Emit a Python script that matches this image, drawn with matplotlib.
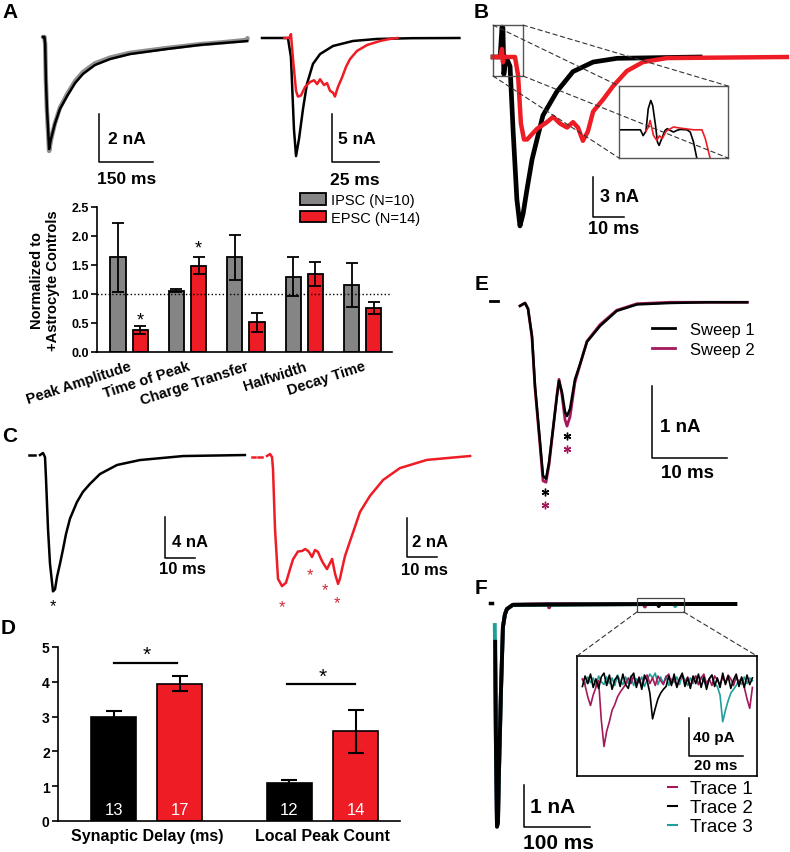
import numpy as np
import matplotlib
matplotlib.use('Agg')
from matplotlib import pyplot as plt
from matplotlib.patches import Rectangle, ConnectionPatch

plt.rcParams['font.family'] = ['Liberation Sans', 'DejaVu Sans']

RED = '#ee1c24'
GRAY = '#858585'
PINK = '#a3195b'
TEAL = '#1f9e9c'

#==============================================================#
# A : 平均波形 (ms, nA)
a_ipsc_t = [0, 4, 6, 8, 11, 14, 17, 22, 33, 47, 67, 89, 111, 144, 186, 242, 344, 436, 500, 567]
a_ipsc_i = [0, 0, -0.3, -1.75, -3.0, -3.8, -4.67, -4.25, -3.62, -3.0, -2.46, -1.92, -1.54,
            -1.17, -0.92, -0.71, -0.5, -0.33, -0.25, -0.17]
a_ctrl_t = [0, 4, 6, 8, 11, 14, 17, 22, 33, 47, 67, 89, 111, 144, 186, 242, 344, 436, 500, 567, 568]
a_ctrl_i = [0, 0, -0.3, -1.8, -3.1, -3.9, -4.75, -4.3, -3.6, -2.95, -2.38, -1.84, -1.46,
            -1.1, -0.86, -0.66, -0.46, -0.3, -0.22, -0.12, -0.05]
a_fast_t = [0, 13.8, 15.4, 17.0, 18.1, 19.7, 21.8, 23.9, 27.1, 30.9, 37.8, 48.4, 61.2, 80, 105]
a_fast_i = [0, 0, -2.0, -9.5, -12.3, -10.5, -7.4, -4.8, -2.7, -1.67, -0.83, -0.31, -0.1, -0.02, 0]
a_slow_t = [12, 14.4, 15.4, 16.5, 18.1, 19.1, 20.7, 22.9, 25.5, 27.7, 29.3, 30.9, 33.0, 34.6,
            36.2, 37.8, 38.8, 40.4, 42.6, 44.7, 46.8, 50.5, 55.9, 62.8, 68.0, 72]
a_slow_i = [0, 0, 0.4, -2.2, -5.5, -6.1, -6.0, -5.1, -4.6, -4.4, -4.8, -4.3, -4.9, -4.7,
            -5.5, -5.7, -6.1, -5.1, -4.1, -3.0, -2.2, -1.35, -0.73, -0.31, -0.1, 0]

# A : 正規化した比較
measures = ['Peak Amplitude', 'Time of Peak', 'Charge Transfer', 'Halfwidth', 'Decay Time']
ipsc_norm = [1.63, 1.06, 1.63, 1.30, 1.15]
ipsc_sem = [0.59, 0.02, 0.38, 0.33, 0.38]
epsc_norm = [0.38, 1.49, 0.51, 1.35, 0.76]
epsc_sem = [0.07, 0.15, 0.17, 0.21, 0.11]
epsc_sig = [0, 1]

# B : 重ね書き + 拡大
b_ipsc_t = [0, 2.3, 2.9, 3.2, 3.5, 4.2, 5.5, 6.5, 7.7, 8.7, 9.7, 11.0, 12.6, 16.1, 20.6,
            25.8, 32.3, 40.0, 66.8]
b_ipsc_i = [0, 0, 2.25, 2.2, -1.3, 0, -0.7, -5.6, -10.7, -12.7, -11.8, -9.9, -7.7, -4.4,
            -2.6, -1.1, -0.38, -0.1, 0]
b_epsc_t = [0, 2.3, 2.9, 3.2, 3.5, 7.1, 8.1, 9.0, 10.0, 11.0, 14.2, 17.4, 19.4, 21.6, 23.9,
            25.8, 27.4, 29.0, 30.6, 32.3, 35.5, 38.7, 43.2, 48.4, 56.1, 94.8]
b_epsc_i = [0, 0, 0.6, -0.4, 0, 0, -1.4, -5.0, -6.2, -6.2, -5.4, -4.9, -4.5, -5.0, -5.3,
            -4.9, -5.3, -6.3, -5.6, -4.1, -3.2, -2.2, -1.05, -0.38, -0.08, 0]
bz_ipsc_t = [0.1, 1.9, 2.0, 2.15, 2.4, 2.6, 2.83, 3.0, 3.25, 3.42, 3.57, 3.8, 4.1, 4.3,
             4.55, 4.85, 5.15, 5.45, 6.04, 6.34, 6.63, 6.93]
bz_ipsc_i = [0.07, 0.07, -0.05, -0.24, 0, 1.19, 1.63, 1.36, 0.3, -0.58, -0.76, -0.4, 0.04,
             0.13, 0.04, -0.05, 0.04, 0.09, 0.07, -0.05, -0.58, -1.46]
bz_epsc_t = [2.4, 2.6, 2.77, 3.07, 3.36, 3.6, 3.85, 4.2, 4.85, 5.45, 6.63, 7.38, 7.68, 7.97, 8.18]
bz_epsc_i = [0, 0.2, 0.57, -0.23, -0.49, -0.25, -0.4, 0.0, 0.22, 0.16, 0.07, 0.07, -0.4, -1.1, -1.63]

# C : 単一波形とピーク
c_ipsc_t = [0, 1, 1.67, 2.0, 2.67, 3.33, 4.33, 5.0, 5.67, 6.67, 7.67, 8.67, 10, 12.3, 14.3,
            16.7, 20, 25.7, 33.3, 47.7, 68.3]
c_ipsc_i = [-0.1, 0.1, -0.3, -2.4, -7.3, -10.7, -13.4, -13.2, -12.0, -10.7, -9.3, -7.8, -6.3,
            -4.7, -3.7, -2.9, -1.95, -1.07, -0.59, -0.2, -0.1]
c_epsc_t = [0, 1, 1.67, 2, 2.67, 3.67, 5, 6.33, 7.67, 8.67, 10.3, 11.7, 12.7, 13.7, 14.3, 15,
            16, 17, 18, 18.7, 20, 21, 21.7, 22.7, 23.7, 24.3, 25, 26, 27.7, 29.3, 31, 34.3,
            38.7, 44.3, 53.3, 67.7]
c_epsc_i = [0, 0.1, -0.05, -0.67, -3.74, -6.3, -6.67, -6.5, -5.8, -5.3, -4.9, -4.87, -4.77,
            -4.87, -5.0, -5.18, -4.82, -4.92, -5.28, -5.49, -5.8, -5.49, -5.28, -6.05, -6.56,
            -6.3, -5.8, -5.13, -4.36, -3.64, -2.87, -2.05, -1.23, -0.62, -0.2, 0]
c_ipsc_peak = [(4.33, -14.3)]
c_epsc_peak = [(5, -7.44), (14.3, -5.8), (19.3, -6.56), (23.3, -7.23)]

# D
d_labels = ['Synaptic Delay (ms)', 'Local Peak Count']
d_ctrl = [3.0, 1.1]
d_ctrl_sem = [0.17, 0.07]
d_exp = [3.95, 2.58]
d_exp_sem = [0.21, 0.62]
d_ctrl_n = [13, 12]
d_exp_n = [17, 14]

# E
e_t = [0, 0.67, 1.07, 1.6, 2.0, 2.67, 3.07, 3.47, 3.87, 4.4, 4.93, 5.2, 5.6, 6.0, 6.27, 6.67,
       7.33, 8.0, 8.93, 10.67, 12.9, 15.6, 20, 25, 30.3]
e_sweep1 = [-0.04, 0, -0.08, -0.46, -1.15, -1.93, -2.4, -2.44, -2.21, -1.75, -1.29, -1.08,
            -1.24, -1.51, -1.57, -1.47, -1.06, -0.85, -0.54, -0.32, -0.11, -0.02, 0, 0.01, 0.01]
e_sweep2 = [-0.04, 0, -0.08, -0.48, -1.18, -1.98, -2.47, -2.49, -2.25, -1.76, -1.27, -1.06,
            -1.28, -1.62, -1.71, -1.58, -1.1, -0.86, -0.53, -0.3, -0.1, -0.01, 0.01, 0.01, 0.01]
e_peak_t = [3.33, 6.27]
e_star1 = [-2.63, -1.85]
e_star2 = [-2.81, -2.03]

# F : 3 本の波形 (nA) と拡大 (pA)
f_t1 = [0.2, 1.5, 3, 4.5, 6, 9, 12, 15, 18, 27, 81, 82, 84, 226, 227, 229, 364]
f_i1 = [-1.3, -3.5, -5.3, -5.2, -4.0, -2.1, -0.55, -0.25, -0.12, -0.02, 0, -0.08, 0, 0, -0.06, 0, 0]
f_t2 = [0.3, 1.5, 3, 4.5, 6, 9, 12, 15, 18, 27, 247, 248, 250, 364]
f_i2 = [-0.9, -3.5, -5.3, -5.2, -4.0, -2.1, -0.55, -0.25, -0.12, -0.02, 0, -0.05, 0, 0]
f_t3 = [-0.3, 1.5, 3, 4.5, 6, 9, 12, 15, 18, 27, 272, 273, 275, 364]
f_i3 = [-0.5, -3.5, -5.3, -5.2, -4.0, -2.1, -0.55, -0.25, -0.12, -0.02, 0, -0.05, 0, 0]
f_inset_t = np.arange(2, 66)
f_trace1_pa = [3, -4, -16, -25, -14, -6, 1, -40, -68, -52,
               -42, -30, -24, -16, -11, -7, -3, 4, -2, 6,
               -3, 5, -5, 3, 7, -2, 4, -4, 6, 1,
               -3, 5, 8, -2, 4, -5, 3, 7, -1, 5,
               -4, 2, 6, -3, 4, 8, -2, 3, -4, 6,
               2, -3, 5, -1, 7, 3, -4, 5, -2, 4,
               -6, -18, -28, -6]
f_trace2_pa = [-5, 6, -2, 8, -6, 3, -7, 5, 9, -4,
               7, -8, 2, 6, -5, 8, -3, -7, 5, 9,
               -6, 4, -8, 7, 1, -12, -39, -28, -18, -12,
               -8, -5, 6, -4, 8, -6, 3, 9, -5, 4,
               -7, 6, -2, 8, -6, 5, -8, 3, 7, -5,
               4, -6, 9, -3, 6, -7, 2, 8, -5, 5,
               -6, 7, -3, 4]
f_trace3_pa = [2, -3, 5, -1, 4, -5, 6, 0, -3, 5,
               -2, 4, -4, 7, 1, -3, 5, -2, 6, -4,
               3, -1, 5, -5, 2, 8, 4, 9, -3, 5,
               -2, 6, -4, 3, -1, 5, -3, 7, 2, -4,
               4, -2, 6, -3, 5, 0, -4, 3, 7, -2,
               -5, -14, -42, -30, -20, -12, -8, -4, 2, -3,
               5, -2, 4, 1]

#==============================================================#
W, H = 790, 853
fig = plt.figure(figsize=(W / 100, H / 100), dpi=100)
fig.patch.set_facecolor('white')


def px_axes(l, t, r, b):
    """ピクセル座標 (左上原点) で軸を作る"""
    return fig.add_axes([l / W, 1 - b / H, (r - l) / W, (b - t) / H])


def trace_axes(box, x0, y0, sx, sy):
    """x0, y0: 原点のピクセル位置, sx, sy: 1 単位あたりのピクセル"""
    l, t, r, b = box
    ax = px_axes(l, t, r, b)
    ax.set_xlim((l - x0) / sx, (r - x0) / sx)
    ax.set_ylim((y0 - b) / sy, (y0 - t) / sy)
    ax.axis('off')
    return ax


def scale_bar(ax, x, y, dx, dy, xlab, ylab, xlab_pos, ylab_pos, fs):
    ax.plot([x, x, x + dx], [y + dy, y, y], color='black', lw=1.1, clip_on=False)
    ax.text(ylab_pos[0], ylab_pos[1], ylab, ha='left', va='center', fontsize=fs, fontweight='bold')
    ax.text(xlab_pos[0], xlab_pos[1], xlab, ha='center', va='center', fontsize=fs, fontweight='bold')


def star(ax, x, y, color='black', fs=13):
    ax.annotate('*', (x, y), xytext=(0, -0.32 * fs), textcoords='offset points',
                ha='center', va='center', fontsize=fs, color=color, annotation_clip=False)


def px_text(x, y, s, **kw):
    fig.text(x / W, 1 - y / H, s, **kw)


def fig_xy(x, y):
    return (x / W, 1 - y / H)


for x, y, s in [(10, 13, 'A'), (481, 12, 'B'), (10, 437, 'C'), (8, 629, 'D'),
                (482, 284, 'E'), (481, 588, 'F')]:
    px_text(x, y, s, fontsize=15, fontweight='bold', ha='center', va='center')

#==============================================================#
# A
axA1 = trace_axes((30, 25, 256, 195), 43, 38, 0.36, 24)
axA1.plot(a_ctrl_t, a_ctrl_i, color='#8f8f8f', lw=3.2, solid_capstyle='round')
axA1.plot(a_ipsc_t, a_ipsc_i, color='black', lw=1.8)
scale_bar(axA1, 155.6, -5.2, 150, 2, '150 ms', '2 nA', (233, -5.9), (180, -4.25), 12.5)

axA2 = trace_axes((258, 25, 462, 195), 262, 39, 1.88, 9.6)
axA2.plot(a_fast_t, a_fast_i, color='black', lw=1.8)
axA2.plot(a_slow_t, a_slow_i, color=RED, lw=1.8)
scale_bar(axA2, 37.2, -12.9, 25, 5, '25 ms', '5 nA', (49.5, -14.7), (40.4, -10.5), 12.5)

axA3 = px_axes(97, 208, 392, 353)
xa = np.arange(len(measures))
bi = axA3.bar(xa - 0.19, ipsc_norm, 0.26, color=GRAY, edgecolor='black', lw=1.3,
              label='IPSC (N=10)', zorder=2)
be = axA3.bar(xa + 0.19, epsc_norm, 0.26, color=RED, edgecolor='black', lw=1.3,
              label='EPSC (N=14)', zorder=2)
axA3.errorbar(xa - 0.19, ipsc_norm, yerr=ipsc_sem, fmt='none', ecolor='black',
              elinewidth=1.3, capsize=4, capthick=1.3, zorder=3)
axA3.errorbar(xa + 0.19, epsc_norm, yerr=epsc_sem, fmt='none', ecolor='black',
              elinewidth=1.3, capsize=4, capthick=1.3, zorder=3)
axA3.axhline(1.0, color='black', lw=1.0, ls=':', zorder=4)
for k in epsc_sig:
    star(axA3, k + 0.19, [0.655, 1.9][k], fs=13)
axA3.set_xlim(-0.55, 4.5)
axA3.set_ylim(0, 2.5)
axA3.set_yticks([0, 0.5, 1.0, 1.5, 2.0, 2.5])
axA3.set_yticklabels(['%.1f' % v for v in [0, 0.5, 1.0, 1.5, 2.0, 2.5]],
                     fontweight='bold', fontsize=9)
axA3.set_xticks(xa)
axA3.set_xticklabels(measures, rotation=18, ha='right', rotation_mode='anchor',
                     fontweight='bold', fontsize=10.5)
axA3.tick_params(axis='x', length=0, pad=5)
axA3.tick_params(axis='y', length=4, width=1.2, pad=2)
for s in ['top', 'right']:
    axA3.spines[s].set_visible(False)
for s in ['left', 'bottom']:
    axA3.spines[s].set_linewidth(1.2)
axA3.set_ylabel('Normalized to\n+Astrocyte Controls', fontweight='bold', fontsize=10.5)
axA3.yaxis.set_label_coords(-0.125, 0.5)
axA3.legend(handles=[bi, be], loc='upper left', bbox_to_anchor=fig_xy(300, 194),
            bbox_transform=fig.transFigure, frameon=False, fontsize=10.5, handlelength=1.8,
            handleheight=0.85, handletextpad=0.3, labelspacing=0.25, borderpad=0,
            borderaxespad=0)

#==============================================================#
# B
axB = trace_axes((485, 20, 790, 235), 493, 58, 3.1, 13.3)
axB.plot(b_ipsc_t, b_ipsc_i, color='black', lw=3.4)
axB.plot(b_epsc_t, b_epsc_i, color=RED, lw=3.2)
axB.add_patch(Rectangle((0, -1.43), 9.7, 3.83, fill=False, edgecolor='#555555', lw=1.0, zorder=5))
scale_bar(axB, 32.3, -12.0, 10, 3, '10 ms', '3 nA', (39, -12.9), (34.5, -10.5), 13)

axBi = px_axes(619, 87, 728, 159)
axBi.plot(bz_ipsc_t, bz_ipsc_i, color='black', lw=1.2)
axBi.plot(bz_epsc_t, bz_epsc_i, color=RED, lw=1.2)
axBi.set_xlim(0, 9.7)
axBi.set_ylim(-1.43, 2.4)
axBi.set_xticks([])
axBi.set_yticks([])
for s in axBi.spines.values():
    s.set_edgecolor('#555555')
    s.set_linewidth(1.0)
for xa_, ya_ in [(0, 2.4), (9.7, 2.4), (0, -1.43), (9.7, -1.43)]:
    fig.add_artist(ConnectionPatch(xyA=(xa_, ya_), coordsA=axB.transData,
                                   xyB=(xa_, ya_), coordsB=axBi.transData,
                                   ls=(0, (4, 3)), color='#333333', lw=0.8))

#==============================================================#
# C
axC1 = trace_axes((20, 430, 250, 612), 40, 455, 3, 10.25)
axC1.plot([-3.7, -1.7], [-0.1, -0.1], color='black', lw=1.8)
axC1.plot(c_ipsc_t, c_ipsc_i, color='black', lw=1.8)
for x, y in c_ipsc_peak:
    star(axC1, x, y, 'black', 12)
scale_bar(axC1, 41.7, -10.15, 10, 4, '10 ms', '4 nA', (47.5, -11.2), (44, -8.5), 12)

axC2 = trace_axes((250, 430, 475, 612), 267, 457, 3, 19.5)
axC2.plot([-5, -4], [-0.05, -0.05], color=RED, lw=1.8)
axC2.plot([-3, -1.7], [-0.05, -0.05], color=RED, lw=1.8)
axC2.plot(c_epsc_t, c_epsc_i, color=RED, lw=1.8)
for x, y in c_epsc_peak:
    star(axC2, x, y, '#d42a3a', 12)
scale_bar(axC2, 46.7, -5.18, 10, 2, '10 ms', '2 nA', (52.5, -5.8), (48.3, -4.36), 12)

#==============================================================#
# D
axD = px_axes(58, 648, 400, 822)
xd = np.arange(len(d_labels))
axD.bar(xd - 0.189, d_ctrl, 0.256, color='black', edgecolor='black', lw=1.2, zorder=2)
axD.bar(xd + 0.189, d_exp, 0.256, color=RED, edgecolor='black', lw=1.2, zorder=2)
axD.errorbar(xd - 0.189, d_ctrl, yerr=d_ctrl_sem, fmt='none', ecolor='black',
             elinewidth=1.5, capsize=6, capthick=1.5, zorder=3)
axD.errorbar(xd + 0.189, d_exp, yerr=d_exp_sem, fmt='none', ecolor='black',
             elinewidth=1.5, capsize=6, capthick=1.5, zorder=3)
for k in range(len(d_labels)):
    axD.text(k - 0.189, 0.33, str(d_ctrl_n[k]), color='white', ha='center', va='center', fontsize=12)
    axD.text(k + 0.189, 0.33, str(d_exp_n[k]), color='white', ha='center', va='center', fontsize=12)
axD.plot([-0.186, 0.172], [4.55, 4.55], color='black', lw=1.6)
axD.plot([0.797, 1.184], [3.93, 3.93], color='black', lw=1.6)
star(axD, 0.0, 4.97, fs=15)
star(axD, 1.0, 4.34, fs=15)
axD.set_xlim(-0.505, 1.441)
axD.set_ylim(0, 5)
axD.set_yticks(range(6))
axD.set_yticklabels([str(v) for v in range(6)], fontweight='bold', fontsize=10)
axD.set_xticks(xd)
axD.set_xticklabels(d_labels, fontweight='bold', fontsize=11.5)
axD.tick_params(axis='x', length=0, pad=5)
axD.tick_params(axis='y', length=4, width=1.2, pad=2)
for s in ['top', 'right']:
    axD.spines[s].set_visible(False)
for s in ['left', 'bottom']:
    axD.spines[s].set_linewidth(1.2)

#==============================================================#
# E
axE = trace_axes((470, 270, 790, 520), 520, 304, 7.5, 72)
axE.plot([-4, -3], [0.03, 0.03], color='black', lw=2.0)
l2, = axE.plot(e_t, e_sweep2, color=PINK, lw=2.0, label='Sweep 2')
l1, = axE.plot(e_t, e_sweep1, color='black', lw=1.8, label='Sweep 1')
# 重なった 2 段の * はマーカーで描く
axE.plot(e_peak_t, e_star1, ls='none', marker=(6, 2, 0), ms=5.5, mew=1.0, color='black')
axE.plot(e_peak_t, e_star2, ls='none', marker=(6, 2, 0), ms=5.5, mew=1.0, color=PINK)
scale_bar(axE, 17.6, -2.15, 10, 1, '10 ms', '1 nA', (22.3, -2.35), (18.7, -1.71), 13.5)
legE = axE.legend(handles=[l1, l2], loc='upper left', bbox_to_anchor=fig_xy(652, 323),
                  bbox_transform=fig.transFigure, frameon=False, fontsize=12,
                  handlelength=1.35, handletextpad=0.9, labelspacing=0.3, borderpad=0,
                  borderaxespad=0)
for h in legE.get_lines():
    h.set_linewidth(2.0)

#==============================================================#
# F
axF = trace_axes((470, 580, 790, 853), 495, 605, 0.66, 42)
axF.plot([-7, -4.5], [0.02, 0.02], color='black', lw=2.5)
h1, = axF.plot(f_t1, f_i1, color=PINK, lw=2.8, label='Trace 1')
h3, = axF.plot(f_t3, f_i3, color=TEAL, lw=2.8, label='Trace 3')
h2, = axF.plot(f_t2, f_i2, color='black', lw=2.8, label='Trace 2')
axF.add_patch(Rectangle((215, -0.19), 71, 0.33, fill=False, edgecolor='#444444', lw=0.9, zorder=5))
scale_bar(axF, 43.9, -5.31, 100, 1, '100 ms', '1 nA', (95.5, -5.67), (53, -4.83), 15)
legF = axF.legend(handles=[h1, h2, h3], loc='upper left', bbox_to_anchor=fig_xy(668, 781),
                  bbox_transform=fig.transFigure, frameon=False, fontsize=13.5,
                  handlelength=0.5, handletextpad=0.7, labelspacing=0.1, borderpad=0,
                  borderaxespad=0)
for h in legF.get_lines():
    h.set_linewidth(1.5)

axFi = px_axes(577, 657, 757, 777)
axFi.plot(f_inset_t, f_trace3_pa, color=TEAL, lw=1.2)
axFi.plot(f_inset_t, f_trace1_pa, color=PINK, lw=1.2)
axFi.plot(f_inset_t, f_trace2_pa, color='black', lw=1.2)
axFi.set_xlim(0, 66.7)
axFi.set_ylim(-99, 27)
axFi.set_xticks([])
axFi.set_yticks([])
for s in axFi.spines.values():
    s.set_linewidth(1.2)
scale_bar(axFi, 41.5, -77.9, 20, 40, '20 ms', '40 pA', (51.5, -87.4), (43, -57.9), 11)
for (xa_, ya_), (xb_, yb_) in [((215, -0.19), (0, 27)), ((286, -0.19), (66.7, 27))]:
    fig.add_artist(ConnectionPatch(xyA=(xa_, ya_), coordsA=axF.transData,
                                   xyB=(xb_, yb_), coordsB=axFi.transData,
                                   ls=(0, (4, 3)), color='#333333', lw=0.8))

fig.savefig('out.png', dpi=100, facecolor='white')
